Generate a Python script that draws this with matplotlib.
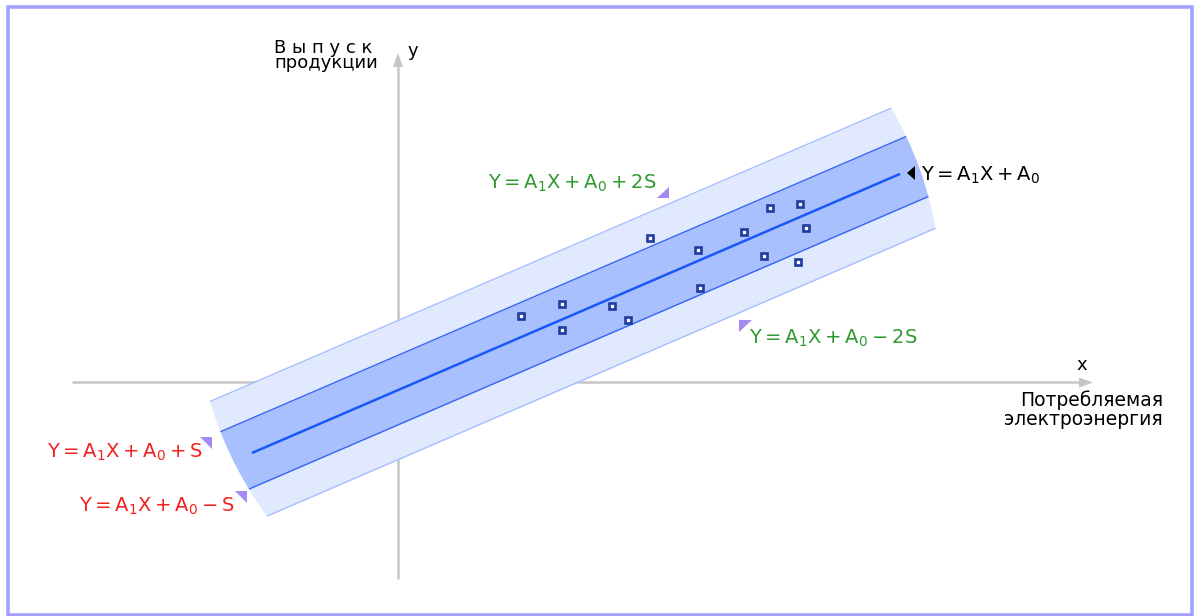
import numpy as np
import matplotlib
matplotlib.use('Agg')
import matplotlib.pyplot as plt
from matplotlib.patches import Polygon, Circle, Rectangle

plt.rcParams['font.family'] = ['DejaVu Sans']
plt.rcParams['mathtext.fontset'] = 'dejavusans'
plt.rcParams['mathtext.default'] = 'regular'

# ---------------- data ----------------
pts_x = [12.3, 16.4, 16.4, 21.4, 23.0, 25.2, 30.0, 30.2, 34.6, 37.2, 36.6, 40.2, 40.8, 40.0]
pts_y = [6.6, 7.8, 5.2, 7.6, 6.2, 14.4, 13.2, 9.4, 15.0, 17.4, 12.6, 17.8, 15.4, 12.0]
A1 = 0.4306
A0 = -0.81
S = 3.48
line_x = [-14.6, 50.2]
clip_xc = 17.8
clip_shift = 2.0
clip_r = 37.35

eq_center = r'$Y=A_1X+A_0$'
eq_p2s = r'$Y=A_1X+A_0+2S$'
eq_m2s = r'$Y=A_1X+A_0-2S$'
eq_ps = r'$Y=A_1X+A_0+S$'
eq_ms = r'$Y=A_1X+A_0-S$'
ylab = ['В ы п у с к', 'продукции']
xlab = ['Потребляемая', 'электроэнергия']

# ---------------- figure ----------------
W, H = 1194, 616
fig = plt.figure(figsize=(W / 100, H / 100), dpi=100)
ax = fig.add_axes([0, 0, 1, 1])
ax.set_xlim(-39.8, 79.6)
ax.set_ylim(-23.4, 38.2)
ax.axis('off')


def P(px, py):
    return ((px - 398) / 10.0, (382 - py) / 10.0)


# frame
x0, y0 = P(8.5, 615)
x1, y1 = P(1191.5, 7)
ax.add_patch(Rectangle((x0, y0), x1 - x0, y1 - y0, fill=False, ec='#a3a3ff', lw=2.6, zorder=0))

axis_col = '#c6c6c6'
# axes lines
xa0 = P(72, 382); xa1 = P(1082, 382)
ax.plot([xa0[0], xa1[0]], [xa0[1], xa1[1]], color=axis_col, lw=1.8, zorder=1, solid_capstyle='butt')
ya0 = P(398, 579); ya1 = P(398, 62)
ax.plot([ya0[0], ya1[0]], [ya0[1], ya1[1]], color=axis_col, lw=1.8, zorder=1, solid_capstyle='butt')
ax.add_patch(Polygon([P(1093, 382.5), P(1079, 377.5), P(1079, 387.5)], closed=True, fc=axis_col, ec='none', zorder=1))
ax.add_patch(Polygon([P(398, 53), P(393, 67), P(403, 67)], closed=True, fc=axis_col, ec='none', zorder=1))

# band
theta = np.arctan(A1)
cx = clip_xc - np.sin(theta) * clip_shift
cy = A1 * clip_xc + A0 + np.cos(theta) * clip_shift
circ = Circle((cx, cy), clip_r, transform=ax.transData)

xs = np.linspace(-35, 75, 400)
yl = A1 * xs + A0
outer = ax.fill_between(xs, yl - 2 * S, yl + 2 * S, color='#e1e9ff', lw=0, zorder=2)
outer.set_clip_path(circ)
inner = ax.fill_between(xs, yl - S, yl + S, color='#a9c0ff', lw=0, zorder=2.1)
inner.set_clip_path(circ)
for k, c, lw in [(2, '#a9beff', 1.0), (-2, '#a9beff', 1.0), (1, '#3566f4', 1.0), (-1, '#3566f4', 1.0)]:
    l, = ax.plot(xs, yl + k * S, color=c, lw=lw, zorder=3)
    l.set_clip_path(circ)

lx = np.array(line_x)
ax.plot(lx, A1 * lx + A0, color='#1858f8', lw=1.8, zorder=4, solid_capstyle='butt')

ax.plot(pts_x, pts_y, 's', ms=3.7, mfc='white', mec='#1c3c9e', mew=1.9, zorder=5, ls='none')

# labels
ax.text(*P(274, 68), ylab[0] + '\n' + ylab[1], color='black', fontsize=13,
        va='baseline', ha='left', linespacing=0.8)
ax.text(*P(408, 56), 'y', color='black', fontsize=13, va='baseline')
ax.text(*P(1076, 370), 'x', color='black', fontsize=13, va='baseline')
ax.text(*P(1163, 425), xlab[0] + '\n' + xlab[1], color='black', ha='right', fontsize=13.5,
        va='baseline', linespacing=0.97, multialignment='right')

green = '#2f9a2f'
red = '#f02020'
purple = '#a68af4'
tx = dict(fontsize=14, va='baseline')
ax.text(*P(921, 180.5), eq_center, color='black', ha='left', **tx)
ax.text(*P(656, 188.5), eq_p2s, color=green, ha='right', **tx)
ax.text(*P(749, 344), eq_m2s, color=green, ha='left', **tx)
ax.text(*P(203, 458), eq_ps, color=red, ha='right', **tx)
ax.text(*P(235, 512), eq_ms, color=red, ha='right', **tx)

tris = [
    [P(669, 187), P(669, 198), P(657, 198)],
    [P(739, 320), P(752, 320), P(739, 332)],
    [P(200, 437), P(212, 437), P(212, 449)],
    [P(235, 491), P(247, 491), P(247, 503)],
]
for t in tris:
    ax.add_patch(Polygon(t, closed=True, fc=purple, ec='none', zorder=6))
ax.add_patch(Polygon([P(907, 173), P(915, 166), P(915, 180)], closed=True, fc='black', ec='none', zorder=6))

fig.savefig('out.png', dpi=100)
